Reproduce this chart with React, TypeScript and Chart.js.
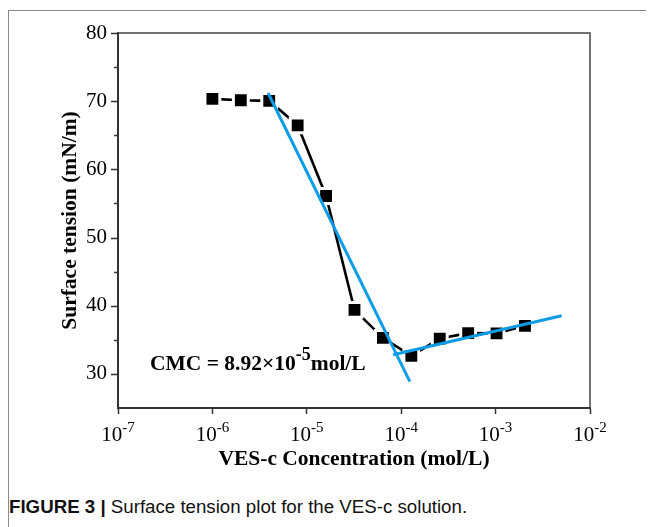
import React, { useEffect, useRef } from 'react';
import { Chart, registerables } from 'chart.js';

Chart.register(...registerables);

// ---- data ----
const concentrations = [1e-6, 2e-6, 4e-6, 8e-6, 1.6e-5, 3.2e-5, 6.4e-5, 1.28e-4, 2.56e-4, 5.12e-4, 1.024e-3, 2.048e-3];
const surfaceTension = [70.34, 70.13, 70.04, 66.46, 56.09, 39.4, 35.29, 32.64, 35.18, 35.98, 35.95, 37.05];
const fitBeforeX = [3.89e-6, 1.236e-4];
const fitBeforeY = [71.2, 28.87];
const fitAfterX = [8.23e-5, 5.0e-3];
const fitAfterY = [32.8, 38.52];
const xTickExponents = [-7, -6, -5, -4, -3, -2];
const yMajorTicks = [30, 40, 50, 60, 70, 80];
const yMinorTicks = [35, 45, 55, 65, 75];
const yRange = [25, 80];
const xRange = [1e-7, 1e-2];
const cmcText = ['CMC = 8.92\u00d710', '-5', 'mol/L'];
const xTitle = 'VES-c Concentration (mol/L)';
const yTitle = 'Surface tension (mN/m)';
const captionBold = 'FIGURE 3 |';
const captionText = ' Surface tension plot for the VES-c solution.';

const SERIF = '"Liberation Serif", "Times New Roman", serif';
const BLUE = '#0d9ce6';
const AXIS = '#333333';

const toPoints = (xs: number[], ys: number[]) => xs.map((x, i) => ({ x, y: ys[i] }));

const decorPlugin = {
  id: 'decor',
  afterDraw(chart: any) {
    const { ctx, chartArea: a, scales } = chart;
    const xs = scales.x;
    const ys = scales.y;
    ctx.save();
    // top and right frame
    ctx.strokeStyle = '#444444';
    ctx.lineWidth = 1.5;
    ctx.beginPath();
    ctx.moveTo(a.left, a.top);
    ctx.lineTo(a.right, a.top);
    ctx.lineTo(a.right, a.bottom);
    ctx.stroke();
    // y ticks (major and minor)
    ctx.strokeStyle = AXIS;
    ctx.lineWidth = 1.5;
    yMajorTicks.forEach((v) => {
      const py = Math.round(ys.getPixelForValue(v)) + 0.5;
      ctx.beginPath();
      ctx.moveTo(a.left - 7, py);
      ctx.lineTo(a.left, py);
      ctx.stroke();
    });
    yMinorTicks.forEach((v) => {
      const py = Math.round(ys.getPixelForValue(v)) + 0.5;
      ctx.beginPath();
      ctx.moveTo(a.left - 4, py);
      ctx.lineTo(a.left, py);
      ctx.stroke();
    });
    // x tick labels with superscript exponents
    ctx.fillStyle = '#000';
    ctx.textAlign = 'left';
    ctx.textBaseline = 'alphabetic';
    xTickExponents.forEach((e) => {
      const px = xs.getPixelForValue(Math.pow(10, e));
      const base = '10';
      const sup = String(e);
      ctx.font = `21px ${SERIF}`;
      const w1 = ctx.measureText(base).width;
      ctx.font = `15px ${SERIF}`;
      const w2 = ctx.measureText(sup).width;
      const start = px - (w1 + w2) / 2;
      ctx.font = `21px ${SERIF}`;
      ctx.fillText(base, start, a.bottom + 33);
      ctx.font = `15px ${SERIF}`;
      ctx.fillText(sup, start + w1, a.bottom + 24);
    });
    // CMC annotation
    const ax = a.left + 32;
    const ay = a.top + 337;
    ctx.font = `bold 21.5px ${SERIF}`;
    ctx.fillText(cmcText[0], ax, ay);
    let cx = ax + ctx.measureText(cmcText[0]).width;
    ctx.font = `bold 18px ${SERIF}`;
    ctx.fillText(cmcText[1], cx, ay - 10);
    cx += ctx.measureText(cmcText[1]).width;
    ctx.font = `bold 21.5px ${SERIF}`;
    ctx.fillText(cmcText[2], cx, ay);
    ctx.restore();
  },
};

function SurfaceTensionChart() {
  const ref = useRef<HTMLCanvasElement | null>(null);
  useEffect(() => {
    if (!ref.current) return;
    const chart = new Chart(ref.current, {
      type: 'line',
      data: {
        datasets: [
          {
            data: toPoints(fitBeforeX, fitBeforeY),
            borderColor: BLUE,
            borderWidth: 3,
            pointRadius: 0,
            fill: false,
            order: 0,
          },
          {
            data: toPoints(fitAfterX, fitAfterY),
            borderColor: BLUE,
            borderWidth: 3,
            pointRadius: 0,
            fill: false,
            order: 1,
          },
          {
            data: toPoints(concentrations, surfaceTension),
            borderColor: '#000',
            borderWidth: 2.6,
            pointStyle: 'rect',
            pointRadius: 10.5,
            pointBackgroundColor: '#000',
            pointBorderColor: '#fff',
            pointBorderWidth: 3,
            fill: false,
            order: 2,
          },
        ],
      } as any,
      options: {
        animation: false,
        responsive: false,
        devicePixelRatio: 1,
        events: [],
        layout: { padding: { left: 0, top: 25, right: 64, bottom: 0 } },
        plugins: { legend: { display: false }, tooltip: { enabled: false } },
        scales: {
          x: {
            type: 'logarithmic',
            min: xRange[0],
            max: xRange[1],
            afterBuildTicks: (s: any) => {
              s.ticks = xTickExponents.map((e) => ({ value: Math.pow(10, e) }));
            },
            afterFit: (s: any) => {
              s.height = 80;
            },
            grid: {
              display: true,
              drawOnChartArea: false,
              drawTicks: true,
              tickLength: 6,
              tickWidth: 1.5,
              tickColor: AXIS,
            },
            border: { display: true, color: AXIS, width: 2 },
            ticks: { display: false },
            title: {
              display: true,
              text: xTitle,
              color: '#000',
              font: { family: SERIF, size: 21.5, weight: 'bold' },
              padding: { top: 0, bottom: 16 },
            },
          },
          y: {
            type: 'linear',
            min: yRange[0],
            max: yRange[1],
            afterBuildTicks: (s: any) => {
              s.ticks = yMajorTicks.map((v) => ({ value: v }));
            },
            afterFit: (s: any) => {
              s.width = 110;
            },
            grid: { display: true, drawOnChartArea: false, drawTicks: false },
            border: { display: true, color: AXIS, width: 2 },
            ticks: {
              color: '#000',
              padding: 11,
              font: { family: SERIF, size: 21 },
              callback: (v: any) => String(v),
            },
            title: {
              display: true,
              text: yTitle,
              color: '#000',
              font: { family: SERIF, size: 21.5, weight: 'bold' },
              padding: { top: 50, bottom: 0 },
            },
          },
        },
      } as any,
      plugins: [decorPlugin],
    });
    return () => chart.destroy();
  }, []);
  return (
    <canvas
      ref={ref}
      width={646}
      height={480}
      style={{ position: 'absolute', left: 0, top: 0, width: 646, height: 480 }}
    />
  );
}

export default function App() {
  return (
    <div style={{ position: 'relative', width: 646, height: 519, overflow: 'hidden' }}>
      <div
        style={{
          position: 'absolute',
          left: 0,
          top: 2,
          right: 0,
          bottom: 0,
          borderTop: '1px solid #8a8a8a',
          borderLeft: '1px solid #8a8a8a',
        }}
      />
      <SurfaceTensionChart />
      <div
        style={{
          position: 'absolute',
          left: 1,
          top: 489,
          whiteSpace: 'nowrap',
          fontFamily: '"Liberation Sans", Arial, sans-serif',
          fontSize: 18.7,
          lineHeight: '20px',
          color: '#111',
        }}
      >
        <b>{captionBold}</b>
        {captionText}
      </div>
    </div>
  );
}
